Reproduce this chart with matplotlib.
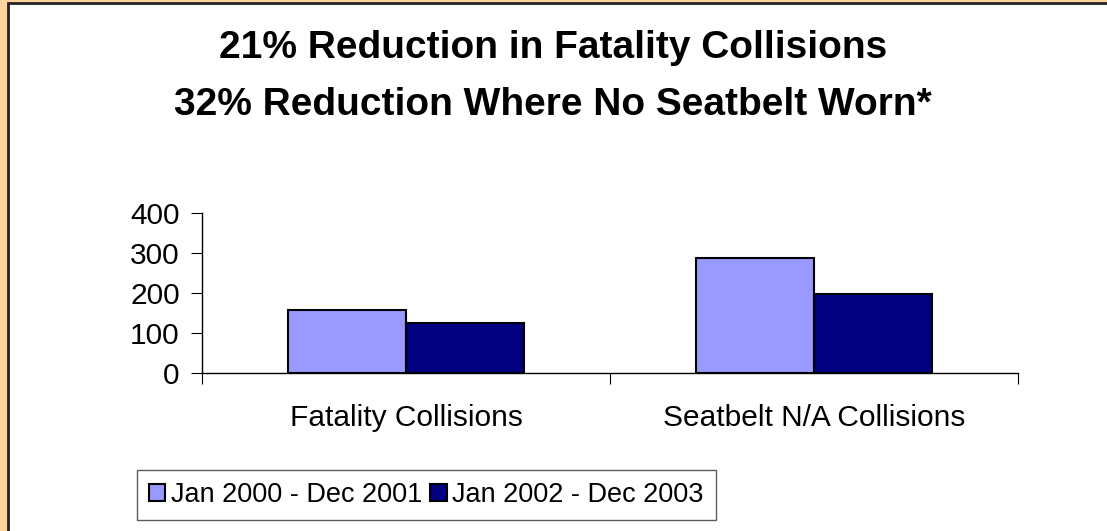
import matplotlib
matplotlib.use("Agg")
import matplotlib.pyplot as plt
from matplotlib.patches import Rectangle, Patch
import numpy as np

# data
categories = ["Fatality Collisions", "Seatbelt N/A Collisions"]
series_names = ["Jan 2000 - Dec 2001", "Jan 2002 - Dec 2003"]
period_2000_2001 = [157, 287]
period_2002_2003 = [124, 197]
y_ticks = [0, 100, 200, 300, 400]
title_lines = ["21% Reduction in Fatality Collisions",
               "32% Reduction Where No Seatbelt Worn*"]

colors = ["#9999FF", "#000080"]
W, H = 1107, 531

plt.rcParams["font.family"] = ["Liberation Sans", "DejaVu Sans"]

fig = plt.figure(figsize=(W / 100, H / 100), dpi=100)
fig.patch.set_facecolor("#FFD49C")

# white chart panel with dark border
panel = Rectangle((8 / W, -0.01), 1.02, 1 - 3 / H + 0.01, transform=fig.transFigure,
                  facecolor="white", edgecolor="#222222", linewidth=2, zorder=-5)
fig.patches.append(panel)

# titles
fig.text(553 / W, 1 - 58 / H, title_lines[0], ha="center", va="baseline",
         fontsize=28, fontweight="bold")
fig.text(553 / W, 1 - 115 / H, title_lines[1], ha="center", va="baseline",
         fontsize=28, fontweight="bold")

ax = fig.add_axes([202 / W, (H - 373) / H, 816 / W, 160 / H])
ax.set_facecolor("none")
ax.set_zorder(2)

x = np.arange(len(categories)) + 0.5
bw = 0.289
ax.bar(x - bw / 2, period_2000_2001, bw, color=colors[0], edgecolor="black", linewidth=1.5)
ax.bar(x + bw / 2, period_2002_2003, bw, color=colors[1], edgecolor="black", linewidth=1.5)

ax.set_xlim(0, len(categories))
ax.set_ylim(0, 400)
ax.set_yticks(y_ticks)
ax.set_xticks([0, 1, 2])
ax.set_xticklabels([])
ax.set_xticks(x, minor=True)
ax.set_xticklabels(categories, minor=True)
ax.tick_params(axis="x", which="minor", length=0, pad=22, labelsize=21.5)
ax.tick_params(axis="x", which="major", length=8, direction="out")
ax.tick_params(axis="y", length=8, direction="out", pad=8, labelsize=21.5)

for s in ["top", "right"]:
    ax.spines[s].set_visible(False)
ax.spines["left"].set_linewidth(1)
ax.spines["bottom"].set_linewidth(1)

handles = [Patch(facecolor=colors[0], edgecolor="black", linewidth=1.5),
           Patch(facecolor=colors[1], edgecolor="black", linewidth=1.5)]
leg = fig.legend(handles, series_names, loc="lower left",
                 bbox_to_anchor=(137 / W, 11 / H), ncol=2, fontsize=19.5,
                 frameon=True, fancybox=False, edgecolor="#333333",
                 handlelength=0.6, handleheight=0.6, handletextpad=0.2,
                 columnspacing=0.3, borderpad=0.45, borderaxespad=0)
leg.get_frame().set_linewidth(1)

fig.savefig("out.png", dpi=100, facecolor=fig.get_facecolor())
